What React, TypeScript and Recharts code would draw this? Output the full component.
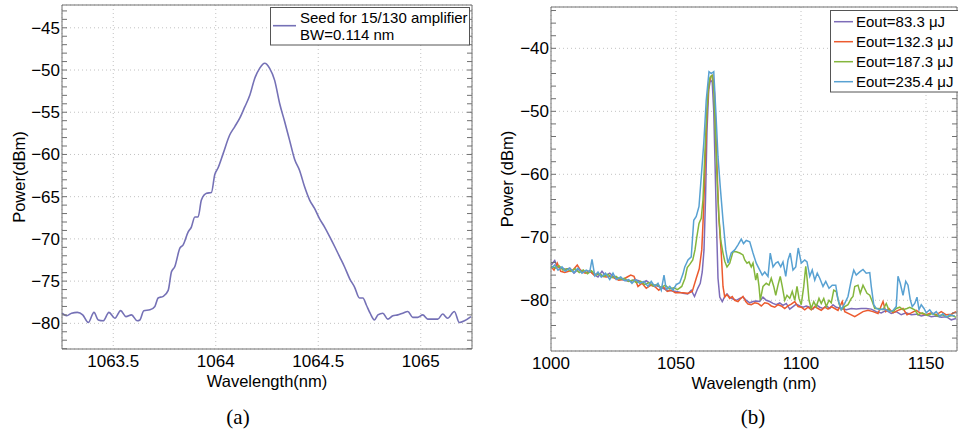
import React from 'react'
import { LineChart, Line, XAxis, YAxis, CartesianGrid } from 'recharts'

const SANS = '"Liberation Sans", Arial, Helvetica, sans-serif'
const SERIF = '"Liberation Serif", "Times New Roman", serif'
const FRAME = '#707070'
const GRID = '#c2c2c2'

// ---------- (a) seed spectrum ----------
const SEED_LABEL = ['Seed for 15/130 amplifier', 'BW=0.114 nm']
const SEED_COLOR = '#7571b6'
const SEED_WL = [
  1063.25, 1063.273, 1063.297, 1063.325, 1063.351, 1063.378, 1063.406, 1063.427, 1063.451, 1063.479,
  1063.508, 1063.536, 1063.562, 1063.589, 1063.617, 1063.63, 1063.649, 1063.679, 1063.703, 1063.719,
  1063.744, 1063.768, 1063.784, 1063.8, 1063.825, 1063.841, 1063.865, 1063.881, 1063.898, 1063.914,
  1063.93, 1063.955, 1063.979, 1063.995, 1064.011, 1064.036, 1064.068, 1064.093, 1064.117, 1064.141,
  1064.166, 1064.19, 1064.214, 1064.239, 1064.263, 1064.287, 1064.312, 1064.336, 1064.36, 1064.385,
  1064.409, 1064.433, 1064.458, 1064.482, 1064.506, 1064.531, 1064.555, 1064.58, 1064.604, 1064.628,
  1064.653, 1064.677, 1064.701, 1064.718, 1064.734, 1064.753, 1064.774, 1064.791, 1064.815, 1064.839,
  1064.864, 1064.888, 1064.912, 1064.937, 1064.961, 1064.985, 1065.01, 1065.034, 1065.058, 1065.083,
  1065.107, 1065.131, 1065.164, 1065.188, 1065.213, 1065.245,
]
const SEED_DBM = [
  -78.8, -79.1, -78.8, -78.7, -79.0, -79.9, -78.7, -79.6, -79.7, -78.7,
  -79.4, -78.5, -79.2, -79.0, -79.7, -79.6, -78.5, -78.4, -78.0, -77.0,
  -76.8, -76.1, -73.9, -73.3, -71.1, -70.7, -69.2, -68.6, -67.4, -67.4,
  -65.4, -64.6, -64.5, -62.4, -61.6, -59.9, -57.7, -56.7, -55.7, -54.4,
  -53.0, -51.0, -49.8, -49.2, -49.8, -51.2, -54.0, -56.1, -58.3, -60.6,
  -61.9, -63.8, -65.4, -66.4, -67.6, -68.6, -69.7, -70.9, -72.1, -73.3,
  -74.7, -75.7, -77.0, -77.0, -77.8, -78.8, -79.6, -79.0, -78.8, -79.5,
  -79.1, -79.0, -78.8, -78.6, -79.3, -79.3, -79.0, -79.5, -79.5, -79.5,
  -78.9, -79.4, -78.6, -79.9, -79.7, -79.2,
]
const A_X_TICKS = [1063.5, 1064, 1064.5, 1065]
const A_Y_TICKS = [-80, -75, -70, -65, -60, -55, -50, -45]

// ---------- (b) amplified spectra ----------
const B_NAMES = ['Eout=83.3 μJ', 'Eout=132.3 μJ', 'Eout=187.3 μJ', 'Eout=235.4 μJ']
const B_COLORS = ['#7d6cb8', '#ec5a2e', '#84b63c', '#58a1d2']

const E83_WL = [
  1000.1, 1001.5, 1002.5, 1004.1, 1005.7, 1007.5, 1009.2, 1010.8, 1012.4, 1014.1, 1015.9, 1017.5, 1018.8,
  1020.4, 1021.8, 1023.5, 1025.2, 1026.8, 1028.4, 1030.1, 1031.9, 1033.5, 1035.1, 1036.8, 1038.1, 1039.9,
  1041.5, 1043.1, 1044.8, 1046.5, 1048.1, 1050.1, 1051.5, 1052.8, 1054.7, 1056.1, 1057.4, 1058.7, 1059.7,
  1060.5, 1061.2, 1061.8, 1062.4, 1063.1, 1063.8, 1064.5, 1065.1, 1065.6, 1066.2, 1066.8, 1067.5, 1068.5,
  1069.5, 1070.4, 1071.5, 1072.8, 1074.1, 1075.5, 1076.8, 1078.1, 1079.5, 1080.8, 1082.1, 1083.5, 1084.8,
  1086.1, 1087.5, 1088.8, 1090.1, 1091.5, 1092.8, 1094.1, 1095.5, 1096.8, 1098.1, 1099.5, 1100.8, 1102.1,
  1103.5, 1104.8, 1106.1, 1107.5, 1108.8, 1110.1, 1111.5, 1112.8, 1114.1, 1116.1, 1118.1, 1120.1, 1122.1,
  1124.1, 1126.1, 1128.1, 1130.1, 1132.1, 1134.1, 1136.1, 1138.1, 1140.1, 1142.1, 1144.1, 1146.1, 1148.1,
  1150.1, 1152.1, 1154.1, 1156.1, 1158.1, 1160.1, 1162.0,
]
const E83_DBM = [
  -74.4, -73.7, -74.7, -74.8, -75.1, -74.9, -75.7, -75.1, -75.3, -75.6, -75.5, -76.0, -76.3,
  -75.4, -76.1, -75.7, -76.3, -76.5, -76.7, -76.9, -77.0, -76.7, -76.9, -77.2, -76.9, -77.4,
  -77.6, -77.8, -78.1, -78.4, -78.5, -78.6, -78.7, -78.9, -79.0, -78.4, -79.4, -78.1, -77.3,
  -75.5, -72.0, -64.0, -53.0, -46.5, -45.0, -45.4, -50.0, -58.0, -68.0, -76.5, -79.5, -80.2,
  -79.4, -79.0, -79.5, -79.8, -80.0, -79.7, -79.5, -80.0, -80.4, -80.2, -80.1, -80.2, -79.5,
  -80.0, -80.2, -80.5, -80.7, -80.4, -80.8, -80.5, -81.4, -81.0, -80.6, -80.9, -81.1, -80.9,
  -81.1, -81.4, -80.7, -81.1, -81.3, -80.9, -81.3, -80.7, -81.1, -81.3, -81.5, -81.3, -81.4,
  -81.3, -81.3, -81.4, -81.8, -82.0, -81.6, -82.1, -81.8, -82.3, -82.0, -82.3, -82.2, -82.5,
  -82.3, -82.6, -82.5, -82.7, -82.6, -83.1, -82.9,
]

const E132_WL = [
  1000.1, 1001.2, 1002.5, 1003.9, 1005.5, 1007.1, 1008.8, 1010.5, 1012.1, 1013.7, 1015.5, 1017.2, 1018.8,
  1020.4, 1022.1, 1023.9, 1025.5, 1027.1, 1028.8, 1030.5, 1031.9, 1033.2, 1034.8, 1036.4, 1038.1, 1039.9,
  1041.5, 1043.1, 1044.8, 1046.5, 1048.1, 1049.7, 1051.5, 1052.8, 1054.7, 1056.5, 1058.1, 1059.3, 1060.3,
  1061.0, 1061.7, 1062.4, 1063.2, 1064.1, 1064.7, 1065.4, 1066.3, 1067.1, 1067.6, 1068.1, 1068.8, 1069.5,
  1070.4, 1071.5, 1072.5, 1073.5, 1074.8, 1075.7, 1076.8, 1077.9, 1078.8, 1080.1, 1081.5, 1082.8, 1084.1,
  1085.5, 1086.8, 1088.1, 1089.5, 1090.8, 1092.1, 1093.5, 1094.8, 1096.1, 1097.5, 1098.8, 1100.1, 1101.5,
  1102.8, 1104.1, 1105.5, 1106.8, 1108.1, 1109.5, 1110.8, 1112.1, 1113.5, 1114.8, 1116.5, 1117.5, 1119.5,
  1121.5, 1123.5, 1124.8, 1126.8, 1128.8, 1130.8, 1132.8, 1133.9, 1135.2, 1136.8, 1138.8, 1140.8, 1142.4,
  1144.1, 1146.1, 1148.1, 1150.1, 1152.1, 1154.1, 1156.1, 1158.1, 1160.1, 1162.0,
]
const E132_DBM = [
  -74.7, -75.2, -74.1, -75.4, -75.6, -75.4, -75.2, -74.4, -75.4, -75.7, -75.3, -76.0, -75.7,
  -76.2, -76.3, -76.2, -76.5, -76.8, -76.7, -76.3, -76.0, -76.2, -77.8, -77.3, -78.1, -77.6,
  -77.8, -78.4, -77.8, -78.6, -78.4, -78.8, -78.8, -78.8, -78.9, -78.6, -76.5, -75.0, -72.0,
  -66.0, -58.0, -50.0, -45.5, -44.4, -44.3, -47.1, -57.7, -66.7, -69.5, -72.5, -77.8, -79.5,
  -79.1, -79.7, -79.4, -80.0, -80.2, -79.8, -79.4, -80.2, -80.6, -80.7, -80.4, -80.5, -80.9,
  -80.4, -80.5, -80.9, -81.1, -80.7, -80.9, -81.3, -80.9, -80.6, -80.2, -81.0, -81.1, -81.5,
  -81.1, -81.5, -81.0, -81.3, -81.6, -81.1, -81.4, -81.0, -81.3, -81.6, -80.2, -81.8, -82.2,
  -82.6, -82.1, -81.8, -81.6, -81.8, -82.1, -80.2, -81.8, -81.3, -82.0, -81.6, -81.3, -82.3,
  -82.0, -81.6, -82.1, -82.3, -82.0, -82.3, -81.8, -82.3, -82.2, -81.8,
]

const E187_WL = [
  1000.1, 1001.8, 1003.2, 1004.8, 1006.4, 1008.0, 1009.6, 1011.3, 1012.9, 1014.6, 1016.2, 1017.9, 1019.5,
  1021.1, 1022.8, 1024.4, 1026.0, 1027.7, 1029.3, 1031.0, 1032.6, 1034.2, 1035.9, 1037.5, 1039.2, 1040.8,
  1042.4, 1044.1, 1045.7, 1047.4, 1049.0, 1050.6, 1052.3, 1053.6, 1054.5, 1055.5, 1056.7, 1057.6, 1058.3,
  1059.2, 1060.1, 1060.8, 1061.5, 1062.2, 1062.9, 1063.6, 1064.4, 1065.1, 1065.8, 1066.5, 1067.2, 1067.9,
  1068.8, 1069.5, 1070.4, 1071.5, 1072.8, 1074.1, 1075.5, 1076.8, 1077.5, 1078.4, 1079.2, 1080.1, 1080.8,
  1081.9, 1082.5, 1083.2, 1083.7, 1084.8, 1086.1, 1087.2, 1088.1, 1089.1, 1089.9, 1090.8, 1091.7, 1092.5,
  1093.5, 1094.4, 1095.5, 1096.5, 1097.5, 1098.4, 1099.2, 1100.1, 1101.1, 1101.9, 1102.5, 1103.2, 1104.1,
  1105.1, 1106.1, 1107.2, 1108.1, 1109.1, 1110.1, 1111.2, 1112.1, 1113.1, 1114.1, 1115.2, 1116.1, 1117.5,
  1118.8, 1120.1, 1120.8, 1121.5, 1122.8, 1123.7, 1124.8, 1126.4, 1127.5, 1128.5, 1129.5, 1130.8, 1132.8,
  1134.1, 1135.2, 1136.8, 1138.1, 1139.5, 1140.8, 1142.4, 1143.5, 1145.5, 1146.8, 1148.5, 1150.5, 1152.5,
  1154.5, 1156.5, 1158.5, 1160.5, 1162.0,
]
const E187_DBM = [
  -74.6, -74.9, -74.5, -75.2, -75.0, -75.4, -75.0, -75.6, -75.2, -75.8, -75.3, -76.0, -75.8,
  -76.2, -75.9, -76.4, -76.2, -76.7, -76.5, -77.0, -76.8, -77.2, -77.0, -77.5, -77.2, -77.7,
  -77.5, -78.0, -77.6, -78.2, -78.0, -78.3, -77.8, -76.5, -74.8, -74.3, -73.6, -72.0, -70.0,
  -67.8, -67.0, -64.0, -57.0, -51.0, -46.5, -44.6, -44.3, -46.3, -54.0, -61.5, -67.0, -70.5,
  -72.5, -73.8, -74.7, -74.1, -72.3, -72.3, -72.5, -72.8, -73.6, -74.1, -73.9, -74.7, -74.1,
  -76.8, -75.7, -77.8, -80.0, -77.8, -77.3, -77.6, -76.5, -77.8, -79.2, -77.6, -76.2, -77.8,
  -80.0, -79.2, -79.7, -78.6, -80.0, -77.8, -79.7, -80.7, -77.8, -74.6, -76.8, -80.0, -81.3,
  -80.2, -81.0, -79.7, -80.5, -79.7, -81.0, -80.0, -80.4, -78.4, -78.6, -80.5, -81.5, -81.0,
  -80.7, -79.7, -79.4, -77.8, -77.6, -78.9, -77.6, -78.9, -79.2, -80.2, -81.3, -81.3, -81.5,
  -80.5, -81.6, -81.8, -81.3, -81.1, -81.5, -81.3, -81.1, -81.5, -82.3, -82.0, -82.4, -82.1,
  -82.5, -82.3, -82.6, -82.4, -82.7,
]

const E235_WL = [
  1000.1, 1001.5, 1002.8, 1004.4, 1005.7, 1007.5, 1009.2, 1010.8, 1012.4, 1014.1, 1015.5, 1016.4, 1017.5,
  1018.8, 1020.1, 1021.8, 1023.5, 1024.8, 1026.1, 1027.9, 1029.5, 1031.1, 1032.4, 1033.8, 1035.5, 1037.2,
  1038.8, 1040.1, 1041.5, 1042.8, 1044.1, 1045.2, 1046.1, 1047.5, 1048.8, 1050.1, 1051.5, 1052.8, 1053.5,
  1054.8, 1056.1, 1057.1, 1058.1, 1059.2, 1060.1, 1061.1, 1062.1, 1063.2, 1064.1, 1065.1, 1065.9, 1066.8,
  1067.7, 1068.8, 1069.9, 1070.8, 1072.1, 1073.5, 1074.8, 1076.1, 1077.0, 1078.1, 1079.5, 1080.8, 1082.1,
  1083.5, 1084.5, 1085.5, 1086.8, 1087.7, 1088.8, 1089.9, 1090.8, 1091.9, 1092.8, 1093.9, 1094.8, 1095.7,
  1096.8, 1097.9, 1098.9, 1100.1, 1101.5, 1102.4, 1103.5, 1104.5, 1105.5, 1106.5, 1107.5, 1108.8, 1109.9,
  1111.2, 1112.5, 1113.9, 1114.8, 1116.1, 1117.5, 1118.8, 1120.1, 1121.1, 1122.1, 1123.5, 1124.8, 1126.1,
  1127.5, 1128.1, 1129.1, 1130.1, 1131.5, 1132.8, 1134.1, 1135.5, 1136.8, 1138.1, 1138.8, 1139.7, 1140.8,
  1141.9, 1142.8, 1143.7, 1144.5, 1145.5, 1146.4, 1147.2, 1148.1, 1149.2, 1150.1, 1151.5, 1152.8, 1154.1,
  1155.5, 1156.8, 1158.1, 1159.5, 1161.5,
]
const E235_DBM = [
  -74.9, -74.4, -75.2, -74.7, -75.4, -74.9, -75.6, -74.9, -75.7, -75.2, -75.5, -73.5, -76.1,
  -75.5, -76.3, -75.7, -76.7, -75.7, -76.7, -76.3, -76.9, -76.7, -77.3, -76.7, -77.3, -77.0,
  -77.8, -77.0, -77.8, -77.3, -78.4, -76.0, -78.3, -77.8, -78.4, -77.5, -77.2, -75.8, -74.7,
  -73.6, -73.1, -67.3, -66.7, -65.1, -60.4, -55.1, -48.2, -43.7, -44.0, -43.7, -49.8, -57.2,
  -62.0, -67.3, -72.0, -74.1, -72.5, -72.0, -71.2, -70.3, -71.0, -70.5, -70.7, -72.5, -74.1,
  -75.2, -76.0, -75.5, -76.2, -72.5, -74.7, -74.1, -73.9, -74.7, -73.9, -76.2, -73.6, -72.5,
  -75.2, -74.7, -71.7, -74.1, -73.6, -73.9, -76.2, -75.2, -76.8, -75.7, -76.5, -77.8, -77.0,
  -78.1, -77.6, -77.6, -79.9, -81.5, -80.5, -79.4, -76.8, -75.2, -76.0, -75.5, -75.1, -75.7,
  -75.6, -77.8, -80.7, -81.3, -81.5, -81.4, -81.5, -81.8, -81.6, -81.0, -76.2, -77.3, -79.2,
  -77.0, -77.6, -79.9, -81.0, -80.5, -79.5, -81.5, -80.7, -81.3, -82.0, -81.5, -82.2, -81.8,
  -82.6, -82.1, -82.7, -82.3, -82.5,
]
const B_WL = [E83_WL, E132_WL, E187_WL, E235_WL]
const B_DBM = [E83_DBM, E132_DBM, E187_DBM, E235_DBM]
const B_X_TICKS = [1000, 1050, 1100, 1150]
const B_Y_TICKS = [-80, -70, -60, -50, -40]

const toPoints = (wl: number[], dbm: number[]) => wl.map((x, i) => ({ x, y: dbm[i] }))
const steps = (from: number, to: number, step: number) => {
  const out: number[] = []
  for (let v = from; v <= to + 1e-9; v += step) out.push(+v.toFixed(3))
  return out
}
const minus = (v: number) => String(v).replace('-', '\u2212')

// inward tick marks on all four sides of the frame
function frameAxes(xDomain: number[], yDomain: number[], xMarks: number[], yMarks: number[]) {
  const common = {
    type: 'number' as const,
    allowDataOverflow: true,
    interval: 0 as const,
    tickFormatter: () => '',
    tickLine: { stroke: FRAME },
    tickSize: 5,
    mirror: true,
  }
  return [
    <XAxis key="fb" xAxisId="fb" orientation="bottom" domain={xDomain} ticks={xMarks} axisLine={false} height={5} {...common} />,
    <XAxis key="ft" xAxisId="ft" orientation="top" domain={xDomain} ticks={xMarks} axisLine={{ stroke: FRAME }} height={5} {...common} />,
    <YAxis key="fl" yAxisId="fl" orientation="left" domain={yDomain} ticks={yMarks} axisLine={false} width={5} {...common} />,
    <YAxis key="fr" yAxisId="fr" orientation="right" domain={yDomain} ticks={yMarks} axisLine={{ stroke: FRAME }} width={5} {...common} />,
  ]
}

const tickStyle = { fontSize: 17, fill: '#000' }
const titleStyle = { fontSize: 16.5, fill: '#000' }

function SeedChart() {
  const xDomain = [1063.25, 1065.25]
  const yDomain = [-83.04, -42.3]
  return (
    <LineChart width={480} height={432} margin={{ top: 5, right: 8, bottom: 38, left: 0 }} style={{ fontFamily: SANS }}>
      <CartesianGrid xAxisId="main" yAxisId="main" stroke={GRID} strokeDasharray="1 3" />
      <XAxis
        xAxisId="main" type="number" dataKey="x" domain={xDomain} allowDataOverflow ticks={A_X_TICKS} interval={0}
        tickLine={false} tickSize={0} tickMargin={6} axisLine={{ stroke: FRAME }} tick={tickStyle} height={45}
        label={{ value: 'Wavelength(nm)', position: 'insideBottom', offset: 7, ...titleStyle }}
      />
      <YAxis
        yAxisId="main" type="number" domain={yDomain} allowDataOverflow ticks={A_Y_TICKS} interval={0}
        tickLine={false} tickSize={0} tickMargin={2} axisLine={{ stroke: FRAME }} tick={tickStyle} width={62}
        tickFormatter={minus}
        label={{ value: 'Power(dBm)', angle: -90, position: 'insideLeft', offset: 19, ...titleStyle, style: { textAnchor: 'middle' } }}
      />
      {frameAxes(xDomain, yDomain, steps(1063.3, 1065.2, 0.05), steps(-83, -43, 1))}
      <Line
        xAxisId="main" yAxisId="main" data={toPoints(SEED_WL, SEED_DBM)} dataKey="y" type="monotone"
        stroke={SEED_COLOR} strokeWidth={1.6} dot={false} isAnimationActive={false}
      />
    </LineChart>
  )
}

function AmplifiedChart() {
  const xDomain = [1000, 1162.4]
  const yDomain = [-88.05, -33.44]
  return (
    <LineChart width={478} height={432} margin={{ top: 7, right: 1, bottom: 36, left: 0 }} style={{ fontFamily: SANS }}>
      <CartesianGrid xAxisId="main" yAxisId="main" stroke={GRID} strokeDasharray="1 3" />
      <XAxis
        xAxisId="main" type="number" dataKey="x" domain={xDomain} allowDataOverflow ticks={B_X_TICKS} interval={0}
        tickLine={false} tickSize={0} tickMargin={6} axisLine={{ stroke: FRAME }} tick={tickStyle} height={45}
        label={{ value: 'Wavelength (nm)', position: 'insideBottom', offset: 7, ...titleStyle }}
      />
      <YAxis
        yAxisId="main" type="number" domain={yDomain} allowDataOverflow ticks={B_Y_TICKS} interval={0}
        tickLine={false} tickSize={0} tickMargin={2} axisLine={{ stroke: FRAME }} tick={tickStyle} width={71}
        tickFormatter={minus}
        label={{ value: 'Power (dBm)', angle: -90, position: 'insideLeft', offset: 27, ...titleStyle, style: { textAnchor: 'middle' } }}
      />
      {frameAxes(xDomain, yDomain, steps(1005, 1160, 5), steps(-86, -34, 2))}
      {B_NAMES.map((name, i) => (
        <Line
          key={name} name={name} xAxisId="main" yAxisId="main" data={toPoints(B_WL[i], B_DBM[i])} dataKey="y"
          type="linear" stroke={B_COLORS[i]} strokeWidth={1.5} dot={false} isAnimationActive={false}
        />
      ))}
    </LineChart>
  )
}

// legend boxes and (a)/(b) captions drawn over the two plots
function Overlay() {
  return (
    <svg width={958} height={432} style={{ position: 'absolute', left: 0, top: 0, pointerEvents: 'none' }}>
      <g fontFamily={SANS} fontSize={15} fill="#000">
        <rect x={270.5} y={7.5} width={199} height={37.5} fill="#fff" stroke="#555" />
        <line x1={273} x2={296} y1={25.7} y2={25.7} stroke={SEED_COLOR} strokeWidth={1.6} />
        <text x={300} y={23.3}>{SEED_LABEL[0]}</text>
        <text x={300} y={40}>{SEED_LABEL[1]}</text>

        <rect x={830.5} y={10.5} width={140} height={81.5} fill="#fff" stroke="#555" />
        {B_NAMES.map((name, i) => (
          <g key={name}>
            <line x1={834} x2={853} y1={21.7 + i * 20} y2={21.7 + i * 20} stroke={B_COLORS[i]} strokeWidth={1.5} />
            <text x={856} y={26.7 + i * 20}>{name}</text>
          </g>
        ))}
      </g>
      <g fontFamily={SERIF} fontSize={21} fill="#000" textAnchor="middle">
        <text x={238} y={423.5}>(a)</text>
        <text x={753} y={423.5}>(b)</text>
      </g>
    </svg>
  )
}

export default function App() {
  return (
    <div style={{ position: 'absolute', left: 0, top: 0, width: 958, height: 432, background: '#fff', overflow: 'hidden' }}>
      <div style={{ position: 'absolute', left: 0, top: 0 }}>
        <SeedChart />
      </div>
      <div style={{ position: 'absolute', left: 480, top: 0 }}>
        <AmplifiedChart />
      </div>
      <Overlay />
    </div>
  )
}
